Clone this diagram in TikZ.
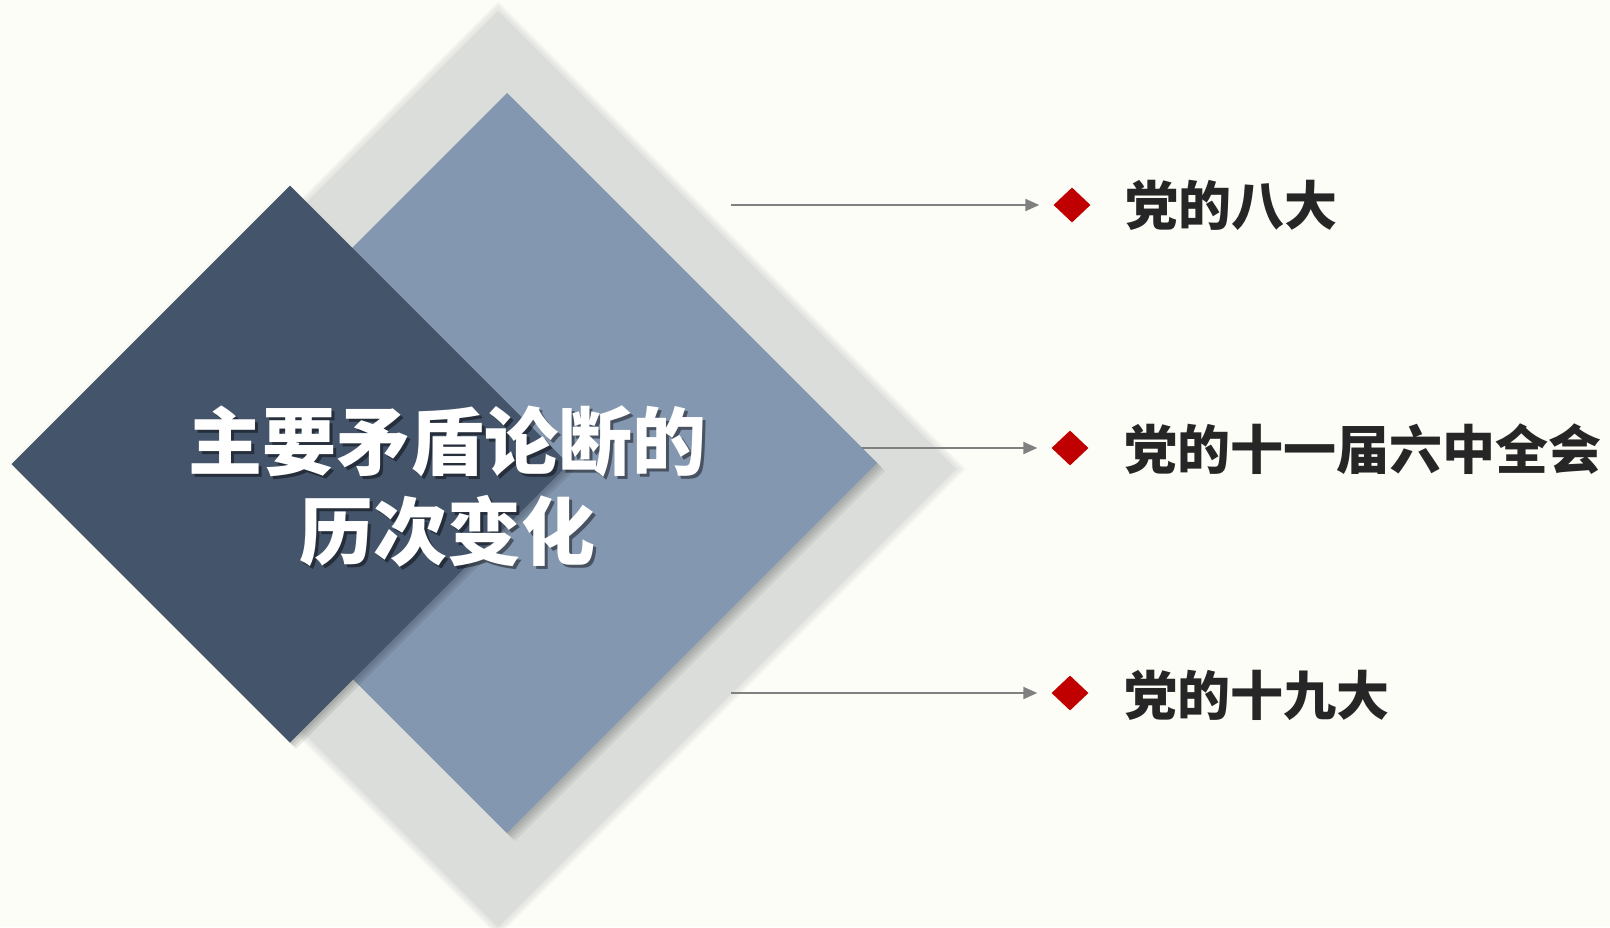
\documentclass[tikz,border=0pt]{standalone}
\usepackage{fontspec}
\newfontfamily\cjk{Noto Sans CJK SC}
\usetikzlibrary{shapes.geometric,arrows.meta}
\definecolor{bgc}{HTML}{FDFDF7}
\definecolor{grayd}{HTML}{DBDDDA}
\definecolor{blued}{HTML}{8497B0}
\definecolor{darkd}{HTML}{44546A}
\definecolor{redd}{HTML}{C00000}
\definecolor{linec}{HTML}{808080}
\definecolor{labc}{HTML}{262626}
\tikzset{
  dia/.style={diamond,aspect=1,inner sep=0pt,outer sep=0pt,minimum width=#1,minimum height=#1},
  arr/.style={draw=linec,line width=2pt,-{Triangle[length=14pt,width=12pt]}},
  reddia/.style={diamond,aspect=1,inner sep=0pt,fill=redd,minimum width=37pt,minimum height=35pt},
  lab/.style={anchor=west,text=labc,font=\cjk\bfseries\fontsize{53}{60}\selectfont,inner sep=0pt},
  title/.style={align=center,font=\cjk\bfseries\fontsize{74}{90}\selectfont,inner sep=0pt}
}
\begin{document}
\begin{tikzpicture}[x=1pt,y=-1pt]
\fill[bgc] (0,0) rectangle (1610,927);
\useasboundingbox (0,0) rectangle (1610,927);
% gray diamond with soft edge
\foreach \r in {934,928,922} {\node[dia=\r pt,fill=grayd,opacity=0.3] at (498,469) {};}
\node[dia=916pt,fill=grayd] (gray) at (498,469) {};
% middle arrow, behind blue diamond
\coordinate (s2) at (760,448);
\node[reddia] (d2) at (1070,448) {};
\draw[arr] (s2) -- ([xshift=-14pt]d2.west);
% blue diamond shadow and fill
\foreach \o in {2,4,6,8} {\node[dia=740pt,fill=black,opacity=0.06] at (507+\o,463+\o) {};}
\node[dia=740pt,fill=blued] (blue) at (507,463) {};
% dark diamond shadow and fill
\foreach \o in {2,4,6} {\node[dia=557pt,fill=black,opacity=0.08] at (290+\o,464+\o) {};}
\node[dia=557pt,fill=darkd] (dark) at (290,464) {};
% title
\node[title,text=black,opacity=0.45] at (450,489) {主要矛盾论断的\\历次变化};
\node[title,text=white] (title) at (447,486) {主要矛盾论断的\\历次变化};
% other arrows
\coordinate (s1) at (731,205);
\coordinate (s3) at (731,693);
\node[reddia] (d1) at (1072,205) {};
\node[reddia] (d3) at (1070,693) {};
\draw[arr] (s1) -- ([xshift=-14pt]d1.west);
\draw[arr] (s3) -- ([xshift=-14pt]d3.west);
% labels
\node[lab] (l1) at (1125,205) {党的八大};
\node[lab] (l2) at (1124,449) {党的十一届六中全会};
\node[lab] (l3) at (1124,695) {党的十九大};
\end{tikzpicture}
\end{document}
